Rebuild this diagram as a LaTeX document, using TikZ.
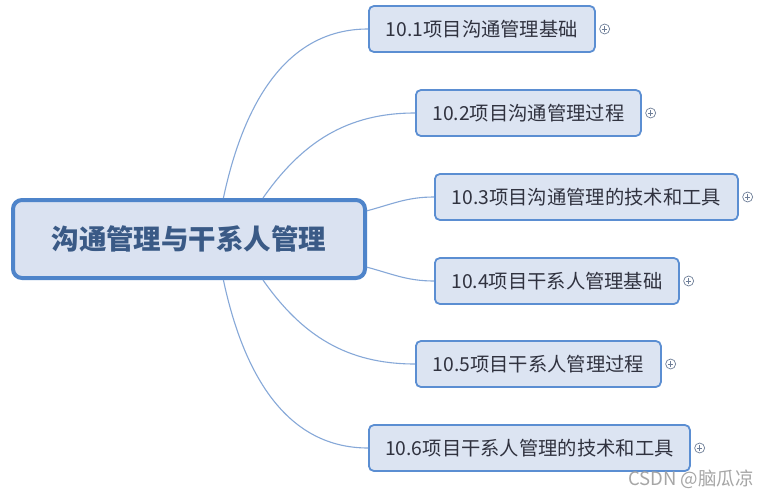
\documentclass[tikz,border=0pt]{standalone}
\usepackage{fontspec}
\setmainfont{Noto Sans CJK SC}
\usepackage{xcolor}
\usetikzlibrary{positioning}

\definecolor{rootline}{HTML}{4E84CA}
\definecolor{rootfill}{HTML}{DAE2F1}
\definecolor{roottext}{HTML}{3A5A86}
\definecolor{topicline}{HTML}{5B8ED2}
\definecolor{topicfill}{HTML}{DCE4F2}
\definecolor{topictext}{HTML}{30323F}
\definecolor{linkline}{HTML}{86A8D8}
\definecolor{plusline}{HTML}{6E7E98}

\tikzset{
  root/.style={draw=rootline, fill=rootfill, line width=4pt, rounded corners=9pt,
    minimum width=352pt, minimum height=78pt, inner sep=0pt,
    text=roottext, font=\fontsize{27.5}{30}\selectfont\bfseries},
  topic/.style={draw=topicline, fill=topicfill, line width=1.8pt, rounded corners=5pt,
    minimum height=46pt, inner sep=0pt, anchor=west,
    text=topictext, font=\fontsize{19.3}{21}\selectfont},
  link/.style={draw=linkline, line width=1.1pt},
  plusmark/.style={draw=plusline, line width=0.7pt, circle, minimum size=10pt, inner sep=0pt,
    path picture={
      \draw[plusline, line width=0.9pt] (path picture bounding box.center) ++(-2.8pt,0) -- ++(5.6pt,0);
      \draw[plusline, line width=0.9pt] (path picture bounding box.center) ++(0,-2.8pt) -- ++(0,5.6pt);
    }},
}

\begin{document}
\begin{tikzpicture}[x=1pt, y=1pt]

\useasboundingbox [fill=white] (0,0) rectangle (772,-498);

\node [root] (root) at (189,-239) {沟通管理与干系人管理};

\node [topic, minimum width=226pt] (t1) at (368,-29) {10.1项目沟通管理基础};
\node [topic, minimum width=225pt] (t2) at (415,-113) {10.2项目沟通管理过程};
\node [topic, minimum width=303pt] (t3) at (434,-197) {10.3项目沟通管理的技术和工具};
\node [topic, minimum width=244pt] (t4) at (434,-281) {10.4项目干系人管理基础};
\node [topic, minimum width=245pt] (t5) at (415,-364) {10.5项目干系人管理过程};
\node [topic, minimum width=321pt] (t6) at (368,-448) {10.6项目干系人管理的技术和工具};

\node [plusmark, right=3.5pt of t1] (p1) {};
\node [plusmark, right=3.5pt of t2] (p2) {};
\node [plusmark, right=3.5pt of t3] (p3) {};
\node [plusmark, right=3.5pt of t4] (p4) {};
\node [plusmark, right=3.5pt of t5] (p5) {};
\node [plusmark, right=3.5pt of t6] (p6) {};

\draw [link] (root.50) to[out=78, in=180] (t1.west);
\draw [link] (root.29) to[out=55, in=180] (t2.west);
\draw [link] (root.9) to[out=15, in=180] (t3.west);
\draw [link] (root.-9) to[out=-15, in=180] (t4.west);
\draw [link] (root.-29) to[out=-55, in=180] (t5.west);
\draw [link] (root.-50) to[out=-78, in=180] (t6.west);

\node [text=gray!70, font=\fontsize{18.5}{20}\selectfont] (mark) at (691,-479) {CSDN @脑瓜凉};

\end{tikzpicture}
\end{document}
